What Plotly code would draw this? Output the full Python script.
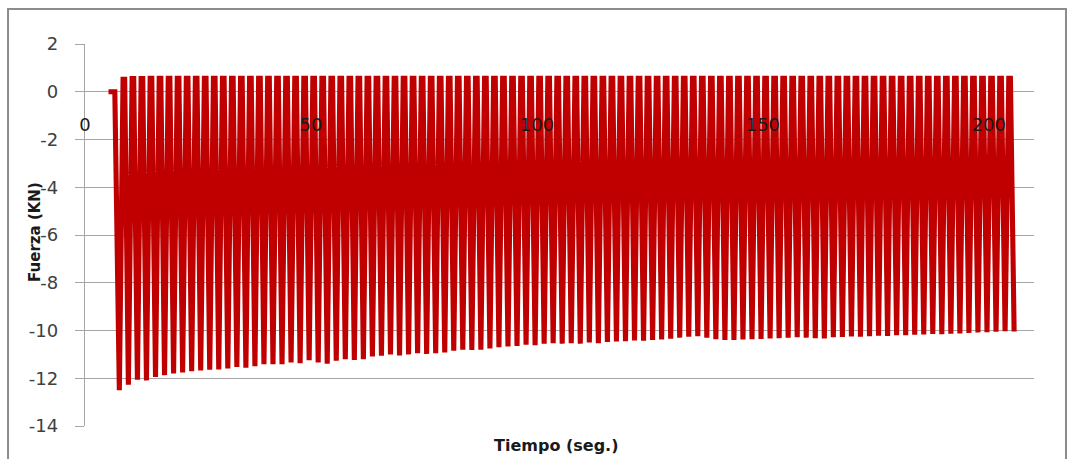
import plotly.graph_objects as go

# ---- data ----
start_t = [5.2, 6.6]
start_kn = [0.0, 0.0]

trough_t = [7.6, 9.6, 11.6, 13.6, 15.6, 17.6, 19.6, 21.6, 23.6, 25.6,
            27.6, 29.6, 31.6, 33.6, 35.6, 37.6, 39.6, 41.6, 43.6, 45.6,
            47.6, 49.6, 51.6, 53.6, 55.6, 57.6, 59.6, 61.6, 63.6, 65.6,
            67.6, 69.6, 71.6, 73.6, 75.6, 77.6, 79.6, 81.6, 83.6, 85.6,
            87.6, 89.6, 91.6, 93.6, 95.6, 97.6, 99.6, 101.6, 103.6, 105.6,
            107.6, 109.6, 111.6, 113.6, 115.6, 117.6, 119.6, 121.6, 123.6, 125.6,
            127.6, 129.6, 131.6, 133.6, 135.6, 137.6, 139.6, 141.6, 143.6, 145.6,
            147.6, 149.6, 151.6, 153.6, 155.6, 157.6, 159.6, 161.6, 163.6, 165.6,
            167.6, 169.6, 171.6, 173.6, 175.6, 177.6, 179.6, 181.6, 183.6, 185.6,
            187.6, 189.6, 191.6, 193.6, 195.6, 197.6, 199.6, 201.6, 203.6, 205.6]

trough_kn = [-12.50, -12.27, -12.06, -12.09, -11.95, -11.87, -11.80, -11.76, -11.71, -11.67,
             -11.64, -11.63, -11.59, -11.53, -11.56, -11.50, -11.41, -11.41, -11.41, -11.34,
             -11.37, -11.24, -11.34, -11.39, -11.27, -11.20, -11.23, -11.20, -11.09, -11.06,
             -11.00, -11.05, -11.00, -10.95, -10.98, -10.95, -10.92, -10.85, -10.80, -10.82,
             -10.80, -10.75, -10.70, -10.67, -10.65, -10.60, -10.62, -10.55, -10.53, -10.55,
             -10.53, -10.55, -10.50, -10.53, -10.48, -10.46, -10.45, -10.42, -10.43, -10.40,
             -10.38, -10.34, -10.30, -10.26, -10.24, -10.30, -10.36, -10.40, -10.40, -10.38,
             -10.36, -10.35, -10.33, -10.32, -10.30, -10.28, -10.30, -10.32, -10.33, -10.28,
             -10.27, -10.25, -10.26, -10.24, -10.22, -10.23, -10.20, -10.20, -10.18, -10.17,
             -10.15, -10.16, -10.13, -10.12, -10.10, -10.08, -10.07, -10.05, -10.03, -10.04]

# centre time of each unloaded (top) plateau, and its plateau force
peak_t = [8.6, 10.6, 12.6, 14.6, 16.6, 18.6, 20.6, 22.6, 24.6, 26.6,
          28.6, 30.6, 32.6, 34.6, 36.6, 38.6, 40.6, 42.6, 44.6, 46.6,
          48.6, 50.6, 52.6, 54.6, 56.6, 58.6, 60.6, 62.6, 64.6, 66.6,
          68.6, 70.6, 72.6, 74.6, 76.6, 78.6, 80.6, 82.6, 84.6, 86.6,
          88.6, 90.6, 92.6, 94.6, 96.6, 98.6, 100.6, 102.6, 104.6, 106.6,
          108.6, 110.6, 112.6, 114.6, 116.6, 118.6, 120.6, 122.6, 124.6, 126.6,
          128.6, 130.6, 132.6, 134.6, 136.6, 138.6, 140.6, 142.6, 144.6, 146.6,
          148.6, 150.6, 152.6, 154.6, 156.6, 158.6, 160.6, 162.6, 164.6, 166.6,
          168.6, 170.6, 172.6, 174.6, 176.6, 178.6, 180.6, 182.6, 184.6, 186.6,
          188.6, 190.6, 192.6, 194.6, 196.6, 198.6, 200.6, 202.6, 204.6]

peak_kn = [0.52, 0.55, 0.55, 0.56, 0.56, 0.56, 0.56, 0.56, 0.56, 0.56,
           0.56, 0.56, 0.56, 0.56, 0.56, 0.56, 0.56, 0.56, 0.56, 0.56,
           0.56, 0.56, 0.56, 0.56, 0.56, 0.56, 0.56, 0.56, 0.56, 0.56,
           0.56, 0.56, 0.56, 0.56, 0.56, 0.56, 0.56, 0.56, 0.56, 0.56,
           0.56, 0.56, 0.56, 0.56, 0.56, 0.56, 0.56, 0.56, 0.56, 0.56,
           0.56, 0.56, 0.56, 0.56, 0.56, 0.56, 0.56, 0.56, 0.56, 0.56,
           0.56, 0.56, 0.56, 0.56, 0.56, 0.56, 0.56, 0.56, 0.56, 0.56,
           0.56, 0.56, 0.56, 0.56, 0.56, 0.56, 0.56, 0.56, 0.56, 0.56,
           0.56, 0.56, 0.56, 0.56, 0.56, 0.56, 0.56, 0.56, 0.56, 0.56,
           0.56, 0.56, 0.56, 0.56, 0.56, 0.56, 0.56, 0.56, 0.56]

peak_hold_s = 0.36   # duration of each top plateau

x_ticks = [0, 50, 100, 150, 200]
y_ticks = [-14, -12, -10, -8, -6, -4, -2, 0, 2]
y_tick_text = ["-14", "-12", "-10", "-8", "-6", "-4", "-2", "0", "2"]

# ---- build the series: start, then trough / plateau / trough ... ----
t_series = list(start_t)
f_series = list(start_kn)
for i in range(len(trough_t)):
    t_series.append(trough_t[i]); f_series.append(trough_kn[i])
    if i < len(peak_t):
        t_series.append(peak_t[i] - peak_hold_s / 2); f_series.append(peak_kn[i])
        t_series.append(peak_t[i] + peak_hold_s / 2); f_series.append(peak_kn[i])

RED = "#C00000"
GRID = "#a6a6a6"
FONT = "DejaVu Sans"

fig = go.Figure()
fig.add_trace(go.Scatter(
    x=t_series, y=f_series, mode="lines",
    line=dict(color=RED, width=5.1),
    showlegend=False, hoverinfo="x+y",
))

fig.update_layout(
    width=1068, height=459,
    margin=dict(l=85, r=34, t=44, b=33),
    paper_bgcolor="white", plot_bgcolor="white",
    showlegend=False,
)
fig.update_xaxes(
    range=[0, 210], anchor="free", position=0.875,
    tickmode="array", tickvals=x_ticks, ticktext=[str(v) for v in x_ticks],
    showgrid=False, zeroline=False, showline=False, ticks="",
    tickfont=dict(family=FONT, size=18, color="#1a1a1a"),
    ticklabelstandoff=20,
)
fig.update_yaxes(
    range=[-14, 2], tickmode="array", tickvals=y_ticks, ticktext=y_tick_text,
    showgrid=True, gridcolor=GRID, gridwidth=1.3,
    zeroline=False, showline=True, linecolor=GRID, linewidth=1.3,
    ticks="outside", ticklen=9, tickcolor=GRID, tickwidth=1.3,
    tickfont=dict(family=FONT, size=18, color="#404040"),
    ticklabelstandoff=13,
)

fig.add_annotation(
    text="<b>Tiempo (seg.)</b>", xref="paper", yref="paper",
    x=0.4963, y=-0.05, showarrow=False,
    font=dict(family=FONT, size=16, color="#1a1a1a"),
    xanchor="center", yanchor="middle",
)
fig.add_annotation(
    text="<b>Fuerza (KN)</b>", xref="paper", yref="paper",
    x=-0.0527, y=0.508, showarrow=False, textangle=-90,
    font=dict(family=FONT, size=15, color="#1a1a1a"),
    xanchor="center", yanchor="middle",
)
fig.add_shape(
    type="rect", xref="paper", yref="paper",
    x0=-0.0811, x1=1.0337, y0=-0.12, y1=1.0916,
    line=dict(color="#8c8c8c", width=2), fillcolor="rgba(0,0,0,0)",
    layer="below",
)

fig.write_html(
    "out.html",
    config={"displayModeBar": False},
    post_script="document.body.style.margin='0';document.body.style.overflow='hidden';",
)
